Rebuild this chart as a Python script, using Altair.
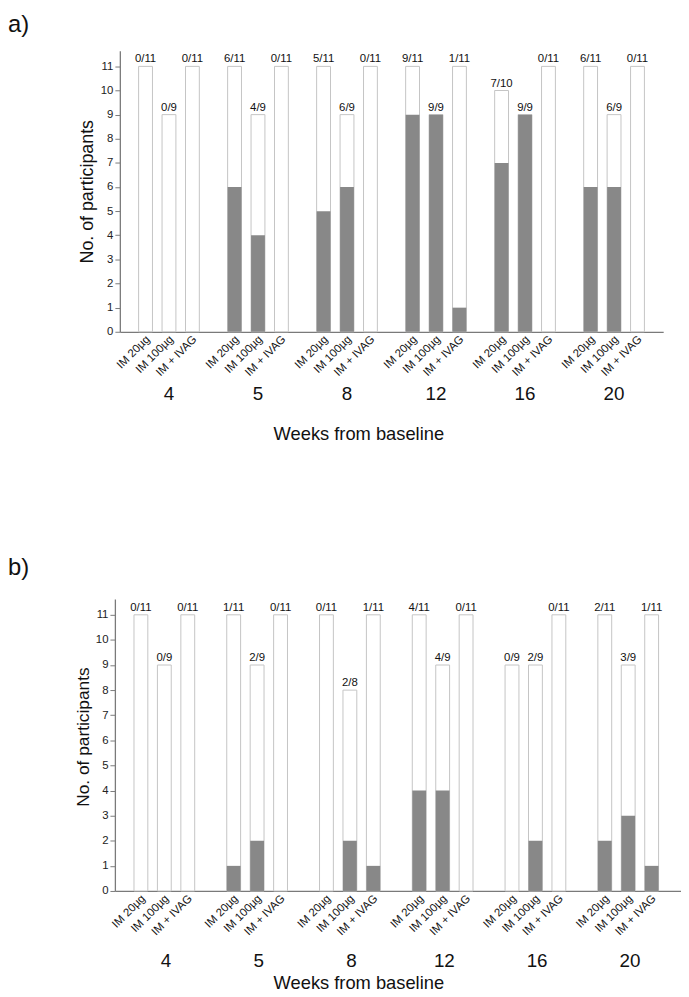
import altair as alt
import pandas as pd

weeks = ["4", "5", "8", "12", "16", "20"]
groups = ["IM 20µg", "IM 100µg", "IM + IVAG"]

# panel a) positives / totals per week (IM 20µg, IM 100µg, IM + IVAG)
a_pos = [[0, 0, 0], [6, 4, 0], [5, 6, 0], [9, 9, 1], [7, 9, 0], [6, 6, 0]]
a_tot = [[11, 9, 11], [11, 9, 11], [11, 9, 11], [11, 9, 11], [10, 9, 11], [11, 9, 11]]

# panel b)
b_pos = [[0, 0, 0], [1, 2, 0], [0, 2, 1], [4, 4, 0], [0, 2, 0], [2, 3, 1]]
b_tot = [[11, 9, 11], [11, 9, 11], [11, 8, 11], [11, 9, 11], [9, 9, 11], [11, 9, 11]]

FONT = "Liberation Sans"
FILL = "#888888"
OUTLINE = "#c4c4c4"
AXIS = "#7a7a7a"


def make_df(pos, tot):
    rows = []
    for wi, w in enumerate(weeks):
        for gi, g in enumerate(groups):
            rows.append({"week": w, "group": g, "pos": pos[wi][gi], "total": tot[wi][gi],
                         "label": f"{pos[wi][gi]}/{tot[wi][gi]}"})
    return pd.DataFrame(rows)


def panel(pos, tot, tag, W, H, xr, pi, po, pio, poo, ymax, yoff, ytx, yty, ytsize,
          lab_pad, xtitle_y, tag_y):
    df = make_df(pos, tot)
    base = alt.Chart(df)
    xenc = alt.X("week:N", sort=weeks,
                 scale=alt.Scale(range=xr, paddingInner=pi, paddingOuter=po),
                 axis=alt.Axis(title="Weeks from baseline", labelAngle=0, labelFontSize=19,
                               labelColor="#111111", labelFont=FONT, labelPadding=lab_pad,
                               labelBaseline="alphabetic", ticks=False, tickSize=0,
                               domainColor=AXIS, domainWidth=1.3, titleFont=FONT,
                               titleFontSize=18.5, titleFontWeight="normal", titleColor="#111111",
                               titleX=246, titleY=xtitle_y, titleAlign="center",
                               titleBaseline="alphabetic"))
    xoff = alt.XOffset("group:N", sort=groups,
                       scale=alt.Scale(paddingInner=pio, paddingOuter=poo))
    yaxis = alt.Axis(title="No. of participants", values=list(range(12)), grid=False,
                     tickSize=5, tickColor=AXIS, domainColor=AXIS, domainWidth=1.3,
                     labelFontSize=11.5, labelColor="#222222", labelFont=FONT, labelPadding=2,
                     titleFont=FONT, titleFontSize=ytsize, titleFontWeight="normal",
                     titleColor="#111111", titleAngle=270, titleX=ytx, titleY=yty,
                     titleAlign="center", titleBaseline="middle", offset=yoff)
    yscale = alt.Scale(domain=[0, ymax], nice=False, zero=True)

    outline = base.mark_bar(fill="white", stroke=OUTLINE, strokeWidth=1).encode(
        x=xenc, xOffset=xoff, y=alt.Y("total:Q", scale=yscale, axis=yaxis))
    filled = base.mark_bar(color=FILL).encode(
        x=xenc, xOffset=xoff, y=alt.Y("pos:Q", scale=yscale, axis=yaxis))
    top = base.mark_text(baseline="bottom", dy=-2, fontSize=11.5, font=FONT,
                         color="#111111").encode(
        x=xenc, xOffset=xoff, y=alt.Y("total:Q", scale=yscale, axis=yaxis), text="label:N")
    sub = base.mark_text(angle=315, align="right", baseline="middle", fontSize=11.5,
                         font=FONT, color="#111111", dx=4).encode(
        x=xenc, xOffset=xoff, y=alt.value(H + 9), text="group:N")
    tagc = alt.Chart(pd.DataFrame({"t": [tag]})).mark_text(
        align="left", baseline="middle", fontSize=24, font=FONT, color="#111111").encode(
        x=alt.value(-108), y=alt.value(tag_y), text="t:N")
    return alt.layer(outline, filled, top, sub, tagc).properties(width=W, height=H)


pa = panel(a_pos, a_tot, "a)", W=554, H=284, xr=[5, 554], pi=0.21, po=0.157,
           pio=0.409, poo=0.2046, ymax=11.65, yoff=-5, ytx=-33, yty=142, ytsize=18,
           lab_pad=68, xtitle_y=109, tag_y=-26)
pb = panel(b_pos, b_tot, "b)", W=572, H=295, xr=[0, 572], pi=0.206, po=0.154,
           pio=0.423, poo=0.2117, ymax=11.63, yoff=0, ytx=-32, yty=139, ytsize=17.5,
           lab_pad=76, xtitle_y=99, tag_y=-31)

chart = alt.vconcat(pa, pb, spacing=270, bounds="flush").properties(
    padding=0).configure_view(stroke=None)

chart.save("out.html", embed_options={"renderer": "svg", "actions": False})
